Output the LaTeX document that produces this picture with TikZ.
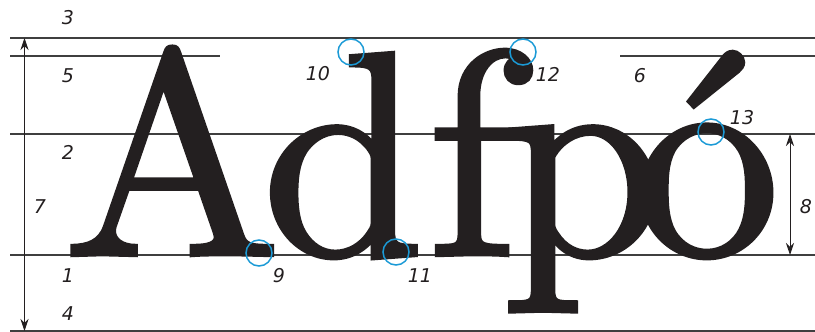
\documentclass[tikz,border=0pt]{standalone}
\usepackage{fontspec}
\usepackage{tikz}
\usetikzlibrary{arrows.meta}
\newfontfamily\numfont{DejaVu Sans}
\newfontfamily\letterfont{lmroman10-regular.otf}[FakeBold=1.5]
\definecolor{InkCol}{HTML}{231F20}
\definecolor{RuleCol}{HTML}{3F3F3F}
\definecolor{MarkCol}{HTML}{1B9AD6}
\newcommand{\bigface}{\letterfont\fontsize{291}{291}\selectfont}

\begin{document}
\begin{tikzpicture}[x=1pt, y=-1pt,
    guide/.style={draw=RuleCol, line width=1.3pt},
    dimen/.style={draw=InkCol, line width=0.9pt, {Stealth[length=12pt,width=8pt]}-{Stealth[length=12pt,width=8pt]}},
    glyph/.style={inner sep=0pt, anchor=base west, text=InkCol, font=\bigface},
    num/.style={inner sep=0pt, text=InkCol, font=\numfont\itshape\fontsize{19}{19}\selectfont},
    spot/.style={draw=MarkCol, line width=1.5pt}]
  \useasboundingbox (0,0) rectangle (815,332);
  % guide lines
  \coordinate (asc-l) at (10,38);    \coordinate (asc-r) at (815,38);
  \coordinate (capl-l) at (10,56);   \coordinate (capl-r) at (220,56);
  \coordinate (capr-l) at (620,56);  \coordinate (capr-r) at (815,56);
  \coordinate (xh-l) at (10,134);    \coordinate (xh-r) at (815,134);
  \coordinate (base-l) at (10,255);  \coordinate (base-r) at (815,255);
  \coordinate (desc-l) at (10,331);  \coordinate (desc-r) at (815,331);
  \draw[guide] (asc-l) -- (asc-r);
  \draw[guide] (capl-l) -- (capl-r);
  \draw[guide] (capr-l) -- (capr-r);
  \draw[guide] (xh-l) -- (xh-r);
  \draw[guide] (base-l) -- (base-r);
  \draw[guide] (desc-l) -- (desc-r);

  % the letters
  \node[glyph] (A) at (63,255) {A};
  \node[glyph] (d) at (262,255) {d};
  \node[glyph] (f) at (427,255) {f};
  \node[glyph] (p) at (502,255) {p};
  \node[glyph] (o) at (634,255) {ó};

  % dimension arrows
  \coordinate (h7-t) at (24.5,38);  \coordinate (h7-b) at (24.5,331);
  \coordinate (h8-t) at (790,134);  \coordinate (h8-b) at (790,255);
  \draw[dimen] (h7-t) -- (h7-b);
  \draw[dimen] (h8-t) -- (h8-b);

  % marked spots
  \node[spot, circle, minimum size=26pt, inner sep=0pt] (c9) at (259,253) {};
  \node[spot, circle, minimum size=26pt, inner sep=0pt] (c10) at (351,52) {};
  \node[spot, circle, minimum size=26pt, inner sep=0pt] (c11) at (396,252) {};
  \node[spot, circle, minimum size=26pt, inner sep=0pt] (c12) at (523,52) {};
  \node[spot, circle, minimum size=26pt, inner sep=0pt] (c13) at (711,132) {};

  % numbers
  \node[num] (n3) at (68,17.5) {3};
  \node[num] (n5) at (68,76) {5};
  \node[num] (n2) at (68,152) {2};
  \node[num] (n1) at (68,276) {1};
  \node[num] (n4) at (68,314) {4};
  \node[num] (n7) at (40,207) {7};
  \node[num] (n10) at (318,74) {10};
  \node[num] (n12) at (548,74) {12};
  \node[num] (n6) at (640,76) {6};
  \node[num] (n13) at (742,118) {13};
  \node[num] (n8) at (806,207) {8};
  \node[num] (n9) at (279,276) {9};
  \node[num] (n11) at (420,276) {11};
\end{tikzpicture}
\end{document}
